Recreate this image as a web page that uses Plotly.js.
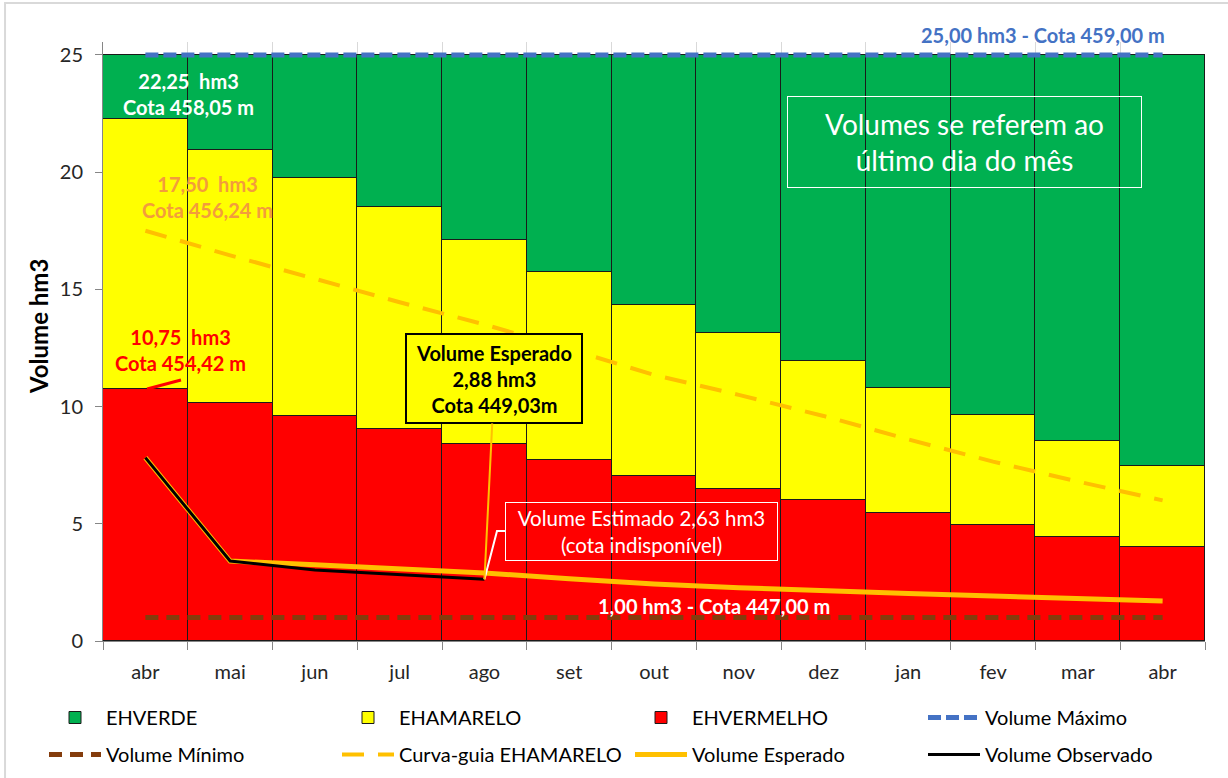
<!DOCTYPE html>
<html>
<head>
<meta charset="utf-8">
<script src="https://cdn.plot.ly/plotly-3.0.1.min.js"></script>
<style>
  html, body { margin: 0; padding: 0; background: #ffffff; }
  #chart { width: 1228px; height: 778px; }
</style>
</head>
<body>
<div id="chart"></div>
<script>
// ---- data ----
const months = ['abr', 'mai', 'jun', 'jul', 'ago', 'set', 'out', 'nov', 'dez', 'jan', 'fev', 'mar', 'abr'];
// upper limit of the red zone (EHVERMELHO), hm3
const redTop = [10.75, 10.15, 9.6, 9.05, 8.4, 7.7, 7.05, 6.5, 6.0, 5.45, 4.95, 4.45, 4.0];
// upper limit of the yellow zone (EHAMARELO), hm3
const yellowTop = [22.25, 20.95, 19.75, 18.5, 17.1, 15.75, 14.35, 13.15, 11.95, 10.8, 9.65, 8.55, 7.45];
// upper limit of the green zone (EHVERDE) = volume máximo, hm3
const greenTop = [25, 25, 25, 25, 25, 25, 25, 25, 25, 25, 25, 25, 25];
const volumeMaximo = [25, 25, 25, 25, 25, 25, 25, 25, 25, 25, 25, 25, 25];
const volumeMinimo = [1, 1, 1, 1, 1, 1, 1, 1, 1, 1, 1, 1, 1];
const curvaGuia = [17.5, 16.45, 15.45, 14.45, 13.5, 12.45, 11.35, 10.5, 9.6, 8.6, 7.65, 6.8, 6.0];
const volumeEsperado = [7.82, 3.41, 3.25, 3.08, 2.9, 2.66, 2.43, 2.27, 2.13, 2.03, 1.92, 1.82, 1.71];
const volumeObservado = [7.82, 3.41, 3.03, 2.82, 2.63];

// ---- derived ----
const xi = months.map((_, i) => i);
const yellowSeg = yellowTop.map((v, i) => v - redTop[i]);
const greenSeg = greenTop.map((v, i) => v - yellowTop[i]);
const boundaries = months.map((_, i) => i - 0.5).concat([months.length - 0.5]);

const FONT = 'Lato, "Open Sans", sans-serif';
const barLine = { color: '#1a1a1a', width: 1 };

const traces = [
  { type: 'bar', name: 'EHVERMELHO', x: xi, y: redTop, marker: { color: '#FF0000', line: barLine },
    legend: 'legend', legendrank: 3, hoverinfo: 'y+name' },
  { type: 'bar', name: 'EHAMARELO', x: xi, y: yellowSeg, marker: { color: '#FFFF00', line: barLine },
    legend: 'legend', legendrank: 2, hoverinfo: 'y+name' },
  { type: 'bar', name: 'EHVERDE', x: xi, y: greenSeg, marker: { color: '#00B050', line: barLine },
    legend: 'legend', legendrank: 1, hoverinfo: 'y+name' },
  { type: 'scatter', mode: 'lines', name: 'Volume Máximo', x: xi, y: volumeMaximo,
    line: { color: '#4472C4', width: 5, dash: '13px,5px' }, legend: 'legend', legendrank: 4 },
  { type: 'scatter', mode: 'lines', name: 'Volume Mínimo', x: xi, y: volumeMinimo,
    line: { color: '#843C0C', width: 5, dash: '13px,8px' }, legend: 'legend2', legendrank: 5 },
  { type: 'scatter', mode: 'lines', name: 'Curva-guia EHAMARELO', x: xi, y: curvaGuia,
    line: { color: '#FFC000', width: 4, dash: '22px,14px' }, legend: 'legend2', legendrank: 6 },
  { type: 'scatter', mode: 'lines', name: 'Volume Esperado', x: xi, y: volumeEsperado,
    line: { color: '#FFC000', width: 5 }, legend: 'legend2', legendrank: 7 },
  { type: 'scatter', mode: 'lines', name: 'Volume Observado', x: xi.slice(0, volumeObservado.length), y: volumeObservado,
    line: { color: '#000000', width: 3 }, legend: 'legend2', legendrank: 8 }
];

const legendCommon = {
  orientation: 'h', xref: 'paper', yref: 'paper', xanchor: 'left', yanchor: 'middle',
  x: (44 - 103) / 1102, font: { family: FONT, size: 20, color: '#000000' },
  itemwidth: 52, entrywidth: 226, entrywidthmode: 'pixels', bgcolor: 'rgba(0,0,0,0)',
  traceorder: 'normal', itemclick: false, itemdoubleclick: false
};

const annotations = [
  { xref: 'paper', yref: 'paper', x: (38 - 103) / 1102, y: (641 - 327) / 599, showarrow: false, textangle: -90,
    xanchor: 'center', yanchor: 'middle',
    text: '<b>Volume hm3</b>', font: { family: FONT, size: 24, color: '#000000' } },
  { xref: 'x', yref: 'y', x: 0.503, y: 23.34, showarrow: false,
    text: '<b>22,25  hm3<br>Cota 458,05 m</b>', font: { family: FONT, size: 20, color: '#FFFFFF' }, align: 'center' },
  { xref: 'x', yref: 'y', x: 0.727, y: 18.94, showarrow: false,
    text: '<b>17,50  hm3<br>Cota 456,24 m</b>', font: { family: FONT, size: 20, color: '#F39C3C' }, align: 'center' },
  { xref: 'x', yref: 'y', x: 0.414, y: 12.41, showarrow: false,
    text: '<b>10,75  hm3<br>Cota 454,42 m</b>', font: { family: FONT, size: 20, color: '#FF0000' }, align: 'center' },
  { xref: 'x', yref: 'y', x: 4, y: 2.63, axref: 'x', ayref: 'y', ax: 4.118, ay: 11.18,
    showarrow: true, arrowhead: 0, arrowwidth: 2, arrowcolor: '#FFC000',
    text: '<b>Volume Esperado<br>2,88 hm3<br>Cota 449,03m</b>', font: { family: FONT, size: 20, color: '#000000' },
    align: 'center', bgcolor: '#FFFF00', bordercolor: '#000000', borderwidth: 2, borderpad: 1, width: 172, height: 85 },
  { xref: 'x', yref: 'y', x: 5.852, y: 4.67, showarrow: false,
    text: 'Volume Estimado 2,63 hm3<br>(cota indisponível)', font: { family: FONT, size: 20.5, color: '#FFFFFF' },
    align: 'center', bordercolor: '#FFFFFF', borderwidth: 1, borderpad: 1, width: 269, height: 55 },
  { xref: 'x', yref: 'y', x: 9.663, y: 21.29, showarrow: false,
    text: 'Volumes se referem ao<br>último dia do mês', font: { family: FONT, size: 28, color: '#FFFFFF' },
    align: 'center', bordercolor: '#FFFFFF', borderwidth: 1, borderpad: 1, width: 351, height: 88 },
  { xref: 'paper', yref: 'paper', x: (1042.5 - 103) / 1102, y: (641 - 35) / 599, showarrow: false,
    xanchor: 'center', yanchor: 'middle',
    text: '<b>25,00 hm3 - Cota 459,00 m</b>', font: { family: FONT, size: 20, color: '#4472C4' } },
  { xref: 'x', yref: 'y', x: 6.708, y: 1.49, showarrow: false,
    text: '<b>1,00 hm3 - Cota 447,00 m</b>', font: { family: FONT, size: 20, color: '#FFFFFF' } }
];

const shapes = [
  // outer chart frame
  { type: 'rect', xref: 'paper', yref: 'paper', x0: -0.0889, x1: 1.06, y0: -0.35, y1: 1.0651,
    line: { color: '#D9D9D9', width: 2 }, layer: 'below' },
  // red connector for 10,75 hm3
  { type: 'line', xref: 'x', yref: 'y', x0: 0.02, y0: 10.75, x1: 0.42, y1: 11.13,
    line: { color: '#FF0000', width: 3 } },
  // white elbow connector for Volume Estimado
  { type: 'path', xref: 'x', yref: 'y', path: 'M 4,2.63 L 4.148,4.69 L 4.242,4.69',
    line: { color: '#FFFFFF', width: 2 } }
];

const layout = {
  width: 1228, height: 778,
  margin: { l: 103, r: 23, t: 42, b: 137, pad: 0, autoexpand: false },
  paper_bgcolor: '#FFFFFF', plot_bgcolor: '#FFFFFF',
  font: { family: FONT, color: '#262626' },
  barmode: 'stack', bargap: 0,
  showlegend: true,
  xaxis: {
    range: [-0.5, 12.5], tickmode: 'array', tickvals: xi, ticktext: months,
    ticks: '', showgrid: false, zeroline: false,
    showline: true, linecolor: '#868686', linewidth: 1,
    tickfont: { family: FONT, size: 20, color: '#262626' }, ticklabelstandoff: 13,
    minor: { tickmode: 'array', tickvals: boundaries, ticks: 'outside', ticklen: 8, tickcolor: '#868686',
             showgrid: true, gridcolor: '#D9D9D9', gridwidth: 1 },
    fixedrange: true
  },
  yaxis: {
    range: [0, 25.55], tickmode: 'array', tickvals: [0, 5, 10, 15, 20, 25],
    ticks: 'outside', ticklen: 7, tickcolor: '#868686', showgrid: false, zeroline: false,
    showline: true, linecolor: '#868686', linewidth: 1,
    tickfont: { family: FONT, size: 20, color: '#262626' }, ticklabelstandoff: 8,
    fixedrange: true
  },
  legend: Object.assign({}, legendCommon, { y: (641 - 717.5) / 599 }),
  legend2: Object.assign({}, legendCommon, { y: (641 - 754.5) / 599 }),
  annotations: annotations,
  shapes: shapes
};

Plotly.newPlot('chart', traces, layout, { displayModeBar: false, staticPlot: false });
</script>
</body>
</html>
